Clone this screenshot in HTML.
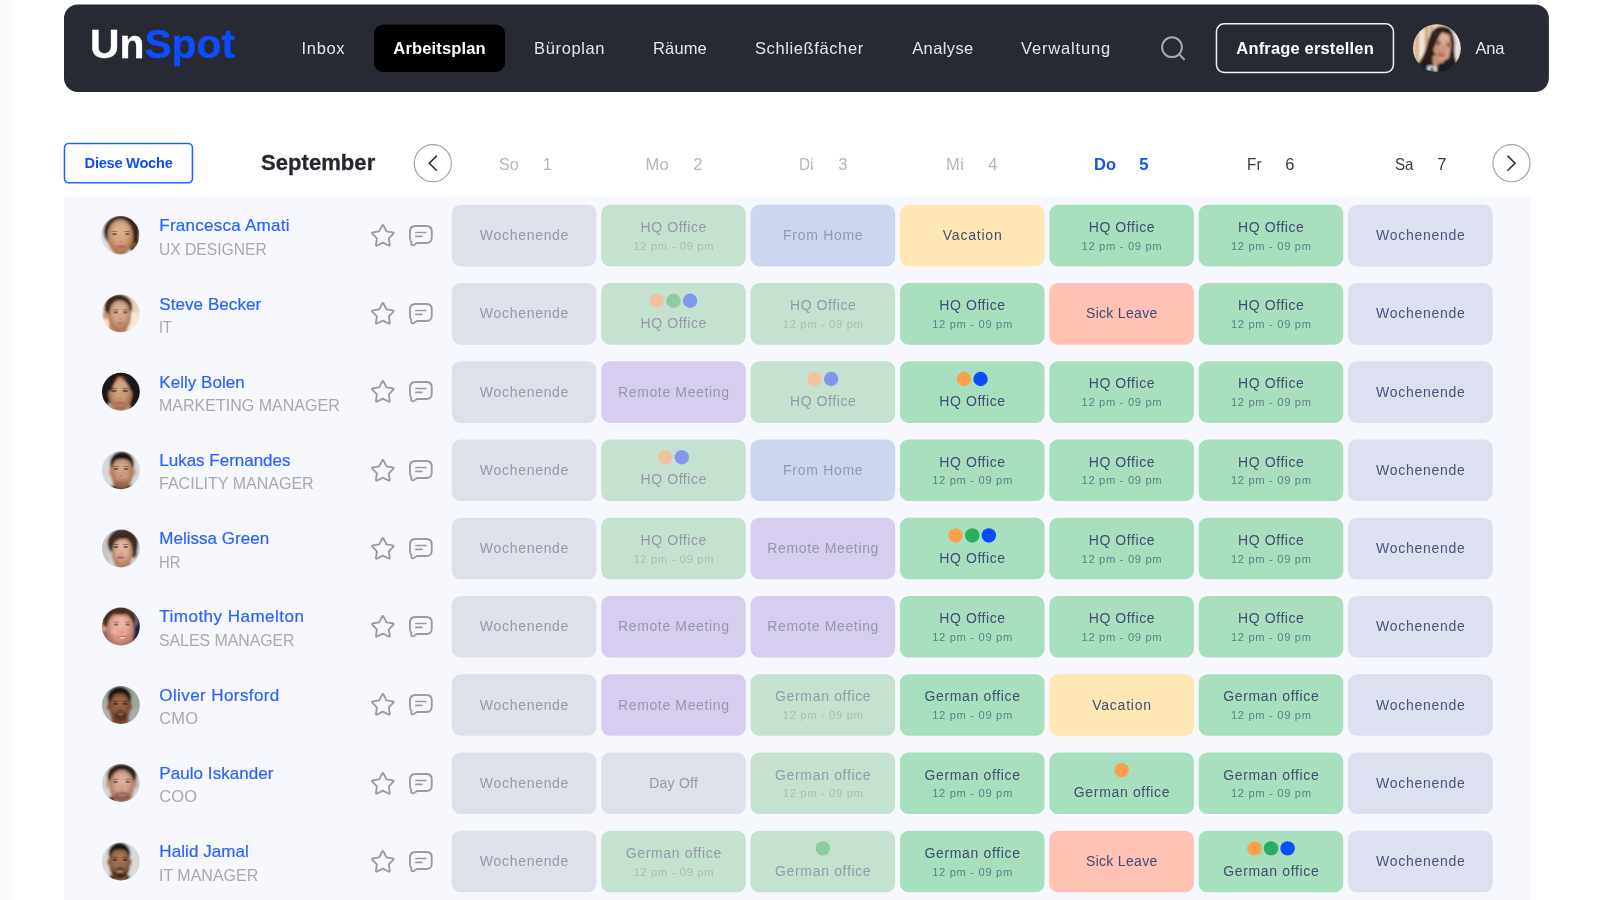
<!DOCTYPE html>
<html lang="de"><head><meta charset="utf-8"><title>UnSpot Arbeitsplan</title>
<style>
html,body{margin:0;padding:0;}
body{width:1600px;height:900px;overflow:hidden;position:relative;background:#fff;font-family:"Liberation Sans",sans-serif;}
#app{position:absolute;left:0;top:0;width:1600px;height:900px;overflow:hidden;will-change:transform;}
.t{position:absolute;white-space:nowrap;display:block;}
.b{position:absolute;box-sizing:border-box;}
svg{position:absolute;overflow:visible;}
</style></head><body><div id="app">
<div class="b" style="left:0.00px;top:0.00px;width:21.00px;height:900.00px;background:linear-gradient(90deg,rgba(0,0,0,0.024),rgba(0,0,0,0.01) 55%,rgba(0,0,0,0));"></div>
<svg style="left:0;top:0" width="1600" height="900"><rect x="64.00" y="4.40" width="1484.90" height="87.60" rx="14" fill="#272a33"/></svg>
<span class="t" style="left:90.3px;top:19px;font-size:40.2px;line-height:51px;font-weight:700;color:#fff;transform-origin:0 50%;transform:scaleX(1.015);-webkit-text-stroke:0.35px currentColor;">Un<span style="color:#0b4dff;-webkit-text-stroke:0.35px #0b4dff;">Spot</span></span>
<span class="t" style="left:301.50px;top:38px;font-size:16.5px;line-height:21px;letter-spacing:0.684px;color:#e4e5e8;">Inbox</span>
<svg style="left:0;top:0" width="1600" height="900"><rect x="374.00" y="24.60" width="131.00" height="47.40" rx="9" fill="#000"/></svg>
<span class="t" style="left:393.30px;top:38px;font-size:16.5px;line-height:21px;letter-spacing:0.163px;color:#fff;font-weight:700;">Arbeitsplan</span>
<span class="t" style="left:534.10px;top:38px;font-size:16.5px;line-height:21px;letter-spacing:0.622px;color:#e4e5e8;">Büroplan</span>
<span class="t" style="left:653.00px;top:38px;font-size:16.5px;line-height:21px;letter-spacing:0.152px;color:#e4e5e8;">Räume</span>
<span class="t" style="left:754.90px;top:38px;font-size:16.5px;line-height:21px;letter-spacing:0.619px;color:#e4e5e8;">Schließfächer</span>
<span class="t" style="left:912.20px;top:38px;font-size:16.5px;line-height:21px;letter-spacing:0.383px;color:#e4e5e8;">Analyse</span>
<span class="t" style="left:1021.00px;top:38px;font-size:16.5px;line-height:21px;letter-spacing:0.840px;color:#e4e5e8;">Verwaltung</span>
<svg style="left:1160px;top:35px" width="27" height="27" viewBox="0 0 27 27"><circle cx="12" cy="12.2" r="9.9" fill="none" stroke="#a9a9a8" stroke-width="2"/><path d="M19.2 19.4 L24.0 24.3" stroke="#a9a9a8" stroke-width="2" stroke-linecap="round"/></svg>
<svg style="left:0;top:0" width="1600" height="200"><rect x="1216.45" y="23.85" width="177.00" height="48.60" rx="7.75" fill="none" stroke="#f2f2f4" stroke-width="1.5"/></svg>
<span class="t" style="left:1236.30px;top:38px;font-size:16.5px;line-height:21px;letter-spacing:0.169px;color:#fff;font-weight:700;">Anfrage erstellen</span>
<span class="t" style="left:1475.50px;top:38px;font-size:16.5px;line-height:21px;letter-spacing:-0.179px;color:#e4e5e8;">Ana</span>
<svg style="left:0;top:0" width="1600" height="200"><rect x="64.48" y="143.47" width="127.95" height="39.35" rx="4.22" fill="#fff" stroke="#2460ff" stroke-width="1.55"/></svg>
<span class="t" style="left:84.60px;top:154px;font-size:14.7px;line-height:19px;letter-spacing:-0.293px;color:#0f4ff8;font-weight:700;">Diese Woche</span>
<span class="t" style="left:261.00px;top:149px;font-size:22px;line-height:28px;letter-spacing:0.062px;color:#25272e;font-weight:700;-webkit-text-stroke:0.3px #25272e;">September</span>
<svg style="left:0;top:0" width="1600" height="200"><circle cx="432.8" cy="163.2" r="18.55" fill="#fff" stroke="#a2a2a2" stroke-width="1.15"/><path d="M436.4 156.1 L429.3 163.2 L436.4 170.3" fill="none" stroke="#333" stroke-width="1.6" stroke-linecap="round" stroke-linejoin="miter"/></svg>
<svg style="left:0;top:0" width="1600" height="200"><circle cx="1511.5" cy="163.2" r="18.55" fill="#fff" stroke="#a2a2a2" stroke-width="1.15"/><path d="M1507.9 156.1 L1515.0 163.2 L1507.9 170.3" fill="none" stroke="#333" stroke-width="1.6" stroke-linecap="round" stroke-linejoin="miter"/></svg>
<span class="t" style="left:499.00px;top:154px;font-size:16.5px;line-height:21px;letter-spacing:0.000px;color:#b6b6b6;transform-origin:0 50%;transform:scaleX(0.9786);">So</span>
<span class="t" style="left:542.80px;top:154px;font-size:16.5px;line-height:21px;letter-spacing:0.000px;color:#b6b6b6;">1</span>
<span class="t" style="left:645.50px;top:154px;font-size:16.5px;line-height:21px;letter-spacing:0.329px;color:#b6b6b6;">Mo</span>
<span class="t" style="left:693.30px;top:154px;font-size:16.5px;line-height:21px;letter-spacing:0.000px;color:#b6b6b6;">2</span>
<span class="t" style="left:798.75px;top:154px;font-size:16.5px;line-height:21px;letter-spacing:0.000px;color:#b6b6b6;transform-origin:0 50%;transform:scaleX(0.9306);">Di</span>
<span class="t" style="left:838.30px;top:154px;font-size:16.5px;line-height:21px;letter-spacing:0.000px;color:#b6b6b6;">3</span>
<span class="t" style="left:946.00px;top:154px;font-size:16.5px;line-height:21px;letter-spacing:0.589px;color:#b6b6b6;">Mi</span>
<span class="t" style="left:988.30px;top:154px;font-size:16.5px;line-height:21px;letter-spacing:0.000px;color:#b6b6b6;">4</span>
<span class="t" style="left:1094.00px;top:154px;font-size:16.5px;line-height:21px;letter-spacing:0.005px;color:#1450f5;font-weight:700;">Do</span>
<span class="t" style="left:1139.30px;top:154px;font-size:16.5px;line-height:21px;letter-spacing:0.000px;color:#1450f5;font-weight:700;">5</span>
<span class="t" style="left:1246.50px;top:154px;font-size:16.5px;line-height:21px;letter-spacing:0.000px;color:#3a3a3a;transform-origin:0 50%;transform:scaleX(0.9311);">Fr</span>
<span class="t" style="left:1285.30px;top:154px;font-size:16.5px;line-height:21px;letter-spacing:0.000px;color:#3a3a3a;">6</span>
<span class="t" style="left:1395.00px;top:154px;font-size:16.5px;line-height:21px;letter-spacing:0.000px;color:#3a3a3a;transform-origin:0 50%;transform:scaleX(0.9167);">Sa</span>
<span class="t" style="left:1437.30px;top:154px;font-size:16.5px;line-height:21px;letter-spacing:0.000px;color:#3a3a3a;">7</span>
<svg style="left:0;top:0" width="1600" height="900"><rect x="63.80" y="196.70" width="1466.60" height="710.00" rx="0" fill="#f6f8fd"/></svg>
<svg style="left:0;top:0" width="1600" height="900"><rect x="451.80" y="204.80" width="144.6" height="61.6" rx="8.8" fill="#dfe1ea"/><rect x="601.18" y="204.80" width="144.6" height="61.6" rx="8.8" fill="#c5e1d0"/><rect x="750.56" y="204.80" width="144.6" height="61.6" rx="8.8" fill="#ccd7ef"/><rect x="899.94" y="204.80" width="144.6" height="61.6" rx="8.8" fill="#ffe8b4"/><rect x="1049.32" y="204.80" width="144.6" height="61.6" rx="8.8" fill="#a8dfbf"/><rect x="1198.70" y="204.80" width="144.6" height="61.6" rx="8.8" fill="#a8dfbf"/><rect x="1348.08" y="204.80" width="144.6" height="61.6" rx="8.8" fill="#dde0ee"/><rect x="451.80" y="283.04" width="144.6" height="61.6" rx="8.8" fill="#dfe1ea"/><rect x="601.18" y="283.04" width="144.6" height="61.6" rx="8.8" fill="#c5e1d0"/><circle cx="656.88" cy="300.74" r="7.2" fill="#f4c19f"/><circle cx="673.48" cy="300.74" r="7.2" fill="#8fcba3"/><circle cx="690.08" cy="300.74" r="7.2" fill="#7f98ee"/><rect x="750.56" y="283.04" width="144.6" height="61.6" rx="8.8" fill="#c5e1d0"/><rect x="899.94" y="283.04" width="144.6" height="61.6" rx="8.8" fill="#a8dfbf"/><rect x="1049.32" y="283.04" width="144.6" height="61.6" rx="8.8" fill="#ffc2b4"/><rect x="1198.70" y="283.04" width="144.6" height="61.6" rx="8.8" fill="#a8dfbf"/><rect x="1348.08" y="283.04" width="144.6" height="61.6" rx="8.8" fill="#dde0ee"/><rect x="451.80" y="361.28" width="144.6" height="61.6" rx="8.8" fill="#dfe1ea"/><rect x="601.18" y="361.28" width="144.6" height="61.6" rx="8.8" fill="#d7cdef"/><rect x="750.56" y="361.28" width="144.6" height="61.6" rx="8.8" fill="#c5e1d0"/><circle cx="814.56" cy="378.98" r="7.2" fill="#f4c19f"/><circle cx="831.16" cy="378.98" r="7.2" fill="#7f98ee"/><rect x="899.94" y="361.28" width="144.6" height="61.6" rx="8.8" fill="#a8dfbf"/><circle cx="963.94" cy="378.98" r="7.2" fill="#ff9f4a"/><circle cx="980.54" cy="378.98" r="7.2" fill="#0a4dff"/><rect x="1049.32" y="361.28" width="144.6" height="61.6" rx="8.8" fill="#a8dfbf"/><rect x="1198.70" y="361.28" width="144.6" height="61.6" rx="8.8" fill="#a8dfbf"/><rect x="1348.08" y="361.28" width="144.6" height="61.6" rx="8.8" fill="#dde0ee"/><rect x="451.80" y="439.52" width="144.6" height="61.6" rx="8.8" fill="#dfe1ea"/><rect x="601.18" y="439.52" width="144.6" height="61.6" rx="8.8" fill="#c5e1d0"/><circle cx="665.18" cy="457.22" r="7.2" fill="#f4c19f"/><circle cx="681.78" cy="457.22" r="7.2" fill="#7f98ee"/><rect x="750.56" y="439.52" width="144.6" height="61.6" rx="8.8" fill="#ccd7ef"/><rect x="899.94" y="439.52" width="144.6" height="61.6" rx="8.8" fill="#a8dfbf"/><rect x="1049.32" y="439.52" width="144.6" height="61.6" rx="8.8" fill="#a8dfbf"/><rect x="1198.70" y="439.52" width="144.6" height="61.6" rx="8.8" fill="#a8dfbf"/><rect x="1348.08" y="439.52" width="144.6" height="61.6" rx="8.8" fill="#dde0ee"/><rect x="451.80" y="517.76" width="144.6" height="61.6" rx="8.8" fill="#dfe1ea"/><rect x="601.18" y="517.76" width="144.6" height="61.6" rx="8.8" fill="#c5e1d0"/><rect x="750.56" y="517.76" width="144.6" height="61.6" rx="8.8" fill="#d7cdef"/><rect x="899.94" y="517.76" width="144.6" height="61.6" rx="8.8" fill="#a8dfbf"/><circle cx="955.64" cy="535.46" r="7.2" fill="#ff9f4a"/><circle cx="972.24" cy="535.46" r="7.2" fill="#27ae60"/><circle cx="988.84" cy="535.46" r="7.2" fill="#0a4dff"/><rect x="1049.32" y="517.76" width="144.6" height="61.6" rx="8.8" fill="#a8dfbf"/><rect x="1198.70" y="517.76" width="144.6" height="61.6" rx="8.8" fill="#a8dfbf"/><rect x="1348.08" y="517.76" width="144.6" height="61.6" rx="8.8" fill="#dde0ee"/><rect x="451.80" y="596.00" width="144.6" height="61.6" rx="8.8" fill="#dfe1ea"/><rect x="601.18" y="596.00" width="144.6" height="61.6" rx="8.8" fill="#d7cdef"/><rect x="750.56" y="596.00" width="144.6" height="61.6" rx="8.8" fill="#d7cdef"/><rect x="899.94" y="596.00" width="144.6" height="61.6" rx="8.8" fill="#a8dfbf"/><rect x="1049.32" y="596.00" width="144.6" height="61.6" rx="8.8" fill="#a8dfbf"/><rect x="1198.70" y="596.00" width="144.6" height="61.6" rx="8.8" fill="#a8dfbf"/><rect x="1348.08" y="596.00" width="144.6" height="61.6" rx="8.8" fill="#dde0ee"/><rect x="451.80" y="674.24" width="144.6" height="61.6" rx="8.8" fill="#dfe1ea"/><rect x="601.18" y="674.24" width="144.6" height="61.6" rx="8.8" fill="#d7cdef"/><rect x="750.56" y="674.24" width="144.6" height="61.6" rx="8.8" fill="#c5e1d0"/><rect x="899.94" y="674.24" width="144.6" height="61.6" rx="8.8" fill="#a8dfbf"/><rect x="1049.32" y="674.24" width="144.6" height="61.6" rx="8.8" fill="#ffe8b4"/><rect x="1198.70" y="674.24" width="144.6" height="61.6" rx="8.8" fill="#a8dfbf"/><rect x="1348.08" y="674.24" width="144.6" height="61.6" rx="8.8" fill="#dde0ee"/><rect x="451.80" y="752.48" width="144.6" height="61.6" rx="8.8" fill="#dfe1ea"/><rect x="601.18" y="752.48" width="144.6" height="61.6" rx="8.8" fill="#dfe1ea"/><rect x="750.56" y="752.48" width="144.6" height="61.6" rx="8.8" fill="#c5e1d0"/><rect x="899.94" y="752.48" width="144.6" height="61.6" rx="8.8" fill="#a8dfbf"/><rect x="1049.32" y="752.48" width="144.6" height="61.6" rx="8.8" fill="#a8dfbf"/><circle cx="1121.62" cy="770.18" r="7.2" fill="#ff9f4a"/><rect x="1198.70" y="752.48" width="144.6" height="61.6" rx="8.8" fill="#a8dfbf"/><rect x="1348.08" y="752.48" width="144.6" height="61.6" rx="8.8" fill="#dde0ee"/><rect x="451.80" y="830.72" width="144.6" height="61.6" rx="8.8" fill="#dfe1ea"/><rect x="601.18" y="830.72" width="144.6" height="61.6" rx="8.8" fill="#c5e1d0"/><rect x="750.56" y="830.72" width="144.6" height="61.6" rx="8.8" fill="#c5e1d0"/><circle cx="822.86" cy="848.42" r="7.2" fill="#8fcba3"/><rect x="899.94" y="830.72" width="144.6" height="61.6" rx="8.8" fill="#a8dfbf"/><rect x="1049.32" y="830.72" width="144.6" height="61.6" rx="8.8" fill="#ffc2b4"/><rect x="1198.70" y="830.72" width="144.6" height="61.6" rx="8.8" fill="#a8dfbf"/><circle cx="1254.40" cy="848.42" r="7.2" fill="#ff9f4a"/><circle cx="1271.00" cy="848.42" r="7.2" fill="#27ae60"/><circle cx="1287.60" cy="848.42" r="7.2" fill="#0a4dff"/><rect x="1348.08" y="830.72" width="144.6" height="61.6" rx="8.8" fill="#dde0ee"/></svg>
<svg style="left:95px;top:210px" width="50" height="50" viewBox="0 0 900 900"><defs><clipPath id="c0"><circle cx="455" cy="455" r="345"/></clipPath><filter id="f0" x="-10%" y="-10%" width="120%" height="120%"><feGaussianBlur stdDeviation="18"/></filter><filter id="h0" x="-10%" y="-10%" width="120%" height="120%"><feGaussianBlur stdDeviation="12"/></filter><radialGradient id="g0" cx="50%" cy="42%" r="55%"><stop offset="0.45" stop-color="#5a2a10" stop-opacity="0"/><stop offset="1" stop-color="#5a2a10" stop-opacity="0.42"/></radialGradient></defs><g clip-path="url(#c0)"><g filter="url(#f0)"><rect x="0" y="0" width="900" height="900" fill="#dcdde1"/><ellipse cx="480" cy="390" rx="325" ry="300" fill="#3a2519"/><ellipse cx="690" cy="560" rx="110" ry="190" fill="#3a2519"/><ellipse cx="720" cy="650" rx="60" ry="70" fill="#7a5a34" opacity="0.9"/><rect x="330" y="640" width="260" height="300" fill="#cf9874"/><ellipse cx="455" cy="480" rx="232" ry="312" fill="#d9a681"/><ellipse cx="455" cy="330" rx="190" ry="130" fill="#deb08c" opacity="0.8"/><ellipse cx="455" cy="480" rx="232" ry="312" fill="url(#g0)"/></g><g filter="url(#h0)" opacity="0.9"><ellipse cx="350" cy="432" rx="42" ry="16" fill="#3b2b26" opacity="0.8"/><ellipse cx="580" cy="432" rx="42" ry="16" fill="#3b2b26" opacity="0.8"/><ellipse cx="350" cy="387" rx="60" ry="9" fill="#3b2b26" opacity="0.55"/><ellipse cx="580" cy="387" rx="60" ry="9" fill="#3b2b26" opacity="0.55"/><ellipse cx="467.0" cy="571.0" rx="34" ry="16" fill="#a86f50" opacity="0.45"/><ellipse cx="465" cy="660" rx="88" ry="28" fill="#b8626b" opacity="0.9"/></g></g></svg>
<span class="t" style="left:159.30px;top:215px;font-size:17px;line-height:22px;letter-spacing:0.257px;color:#2a62ff;-webkit-text-stroke:0.2px #2a62ff;">Francesca Amati</span>
<span class="t" style="left:159.30px;top:239px;font-size:16.5px;line-height:21px;letter-spacing:0.000px;color:#a9a9af;transform-origin:0 50%;transform:scaleX(0.9473);">UX DESIGNER</span>
<svg style="left:364px;top:216.00px" width="80" height="40" viewBox="0 0 1600 800"><path d="M303.5 306.9 L362.3 194.2 Q377.0 166.0 391.7 194.2 L450.5 306.9 L575.8 327.9 Q607.2 333.2 584.9 355.9 L495.9 446.6 L514.6 572.4 Q519.2 603.8 490.8 589.6 L377.0 533.0 L263.2 589.6 Q234.8 603.8 239.4 572.4 L258.1 446.6 L169.1 355.9 Q146.8 333.2 178.2 327.9 Z" fill="none" stroke="#9b9b9b" stroke-width="37" stroke-linejoin="round"/><path d="M1030 200 H1245 Q1355 200 1355 310 V430 Q1355 540 1245 540 H1075 Q1050 540 1030 558 Q990 598 962 584 Q938 570 946 522 Q920 490 920 430 V310 Q920 200 1030 200 Z" fill="none" stroke="#9b9b9b" stroke-width="37" stroke-linejoin="round"/><path d="M1038 330 H1236 M1038 408 H1158" stroke="#9b9b9b" stroke-width="34" stroke-linecap="round"/></svg>
<span class="t" style="left:479.80px;top:226px;font-size:14px;line-height:18px;letter-spacing:0.706px;color:#959aaa;">Wochenende</span>
<span class="t" style="left:640.58px;top:218px;font-size:14px;line-height:18px;letter-spacing:0.575px;color:#959aaa;">HQ Office</span>
<span class="t" style="left:633.38px;top:239px;font-size:11.2px;line-height:14px;letter-spacing:0.666px;color:#a9bdb6;">12 pm - 09 pm</span>
<span class="t" style="left:783.11px;top:226px;font-size:14px;line-height:18px;letter-spacing:0.700px;color:#959aaa;">From Home</span>
<span class="t" style="left:942.79px;top:226px;font-size:14px;line-height:18px;letter-spacing:0.779px;color:#414d72;">Vacation</span>
<span class="t" style="left:1088.72px;top:218px;font-size:14px;line-height:18px;letter-spacing:0.575px;color:#414d72;">HQ Office</span>
<span class="t" style="left:1081.52px;top:239px;font-size:11.2px;line-height:14px;letter-spacing:0.666px;color:#5f7f83;">12 pm - 09 pm</span>
<span class="t" style="left:1238.10px;top:218px;font-size:14px;line-height:18px;letter-spacing:0.575px;color:#414d72;">HQ Office</span>
<span class="t" style="left:1230.90px;top:239px;font-size:11.2px;line-height:14px;letter-spacing:0.666px;color:#5f7f83;">12 pm - 09 pm</span>
<span class="t" style="left:1376.08px;top:226px;font-size:14px;line-height:18px;letter-spacing:0.706px;color:#4a5578;">Wochenende</span>
<svg style="left:95px;top:285px" width="50" height="50" viewBox="0 0 900 900"><defs><clipPath id="c1"><circle cx="462" cy="512" r="340"/></clipPath><filter id="f1" x="-10%" y="-10%" width="120%" height="120%"><feGaussianBlur stdDeviation="18"/></filter><filter id="h1" x="-10%" y="-10%" width="120%" height="120%"><feGaussianBlur stdDeviation="12"/></filter><radialGradient id="g1" cx="50%" cy="42%" r="55%"><stop offset="0.45" stop-color="#5a2a10" stop-opacity="0"/><stop offset="1" stop-color="#5a2a10" stop-opacity="0.42"/></radialGradient></defs><g clip-path="url(#c1)"><g filter="url(#f1)"><rect x="0" y="0" width="900" height="900" fill="#fbe4d5"/><ellipse cx="760" cy="280" rx="200" ry="220" fill="#e7cdbc" opacity="0.8"/><ellipse cx="420" cy="400" rx="250" ry="240" fill="#3b2a20"/><ellipse cx="190" cy="545" rx="45" ry="75" fill="#cf9677"/><rect x="250" y="700" width="330" height="300" fill="#cf9a7b"/><ellipse cx="440" cy="560" rx="205" ry="292" fill="#d8a486"/><ellipse cx="440" cy="400" rx="170" ry="110" fill="#ddb094" opacity="0.8"/><path d="M170 470 Q190 200 430 180 Q640 175 660 420 Q600 280 430 275 Q280 285 255 520 Z" fill="#3b2a20"/><ellipse cx="440" cy="560" rx="205" ry="292" fill="url(#g1)"/></g><g filter="url(#h1)" opacity="0.9"><ellipse cx="372" cy="492" rx="42" ry="16" fill="#3b2b26" opacity="0.8"/><ellipse cx="545" cy="492" rx="42" ry="16" fill="#3b2b26" opacity="0.8"/><ellipse cx="372" cy="447" rx="60" ry="9" fill="#3b2b26" opacity="0.55"/><ellipse cx="545" cy="447" rx="60" ry="9" fill="#3b2b26" opacity="0.55"/><ellipse cx="460.5" cy="616.0" rx="34" ry="16" fill="#a86f50" opacity="0.45"/><ellipse cx="462" cy="690" rx="70" ry="22" fill="#c26d7c" opacity="0.9"/></g></g></svg>
<span class="t" style="left:159.30px;top:294px;font-size:17px;line-height:22px;letter-spacing:0.072px;color:#2a62ff;-webkit-text-stroke:0.2px #2a62ff;">Steve Becker</span>
<span class="t" style="left:159.30px;top:317px;font-size:16.5px;line-height:21px;letter-spacing:0.000px;color:#a9a9af;transform-origin:0 50%;transform:scaleX(0.8729);">IT</span>
<svg style="left:364px;top:294.24px" width="80" height="40" viewBox="0 0 1600 800"><path d="M303.5 306.9 L362.3 194.2 Q377.0 166.0 391.7 194.2 L450.5 306.9 L575.8 327.9 Q607.2 333.2 584.9 355.9 L495.9 446.6 L514.6 572.4 Q519.2 603.8 490.8 589.6 L377.0 533.0 L263.2 589.6 Q234.8 603.8 239.4 572.4 L258.1 446.6 L169.1 355.9 Q146.8 333.2 178.2 327.9 Z" fill="none" stroke="#9b9b9b" stroke-width="37" stroke-linejoin="round"/><path d="M1030 200 H1245 Q1355 200 1355 310 V430 Q1355 540 1245 540 H1075 Q1050 540 1030 558 Q990 598 962 584 Q938 570 946 522 Q920 490 920 430 V310 Q920 200 1030 200 Z" fill="none" stroke="#9b9b9b" stroke-width="37" stroke-linejoin="round"/><path d="M1038 330 H1236 M1038 408 H1158" stroke="#9b9b9b" stroke-width="34" stroke-linecap="round"/></svg>
<span class="t" style="left:479.80px;top:304px;font-size:14px;line-height:18px;letter-spacing:0.706px;color:#959aaa;">Wochenende</span>
<span class="t" style="left:640.58px;top:314px;font-size:14px;line-height:18px;letter-spacing:0.575px;color:#959aaa;">HQ Office</span>
<span class="t" style="left:789.96px;top:296px;font-size:14px;line-height:18px;letter-spacing:0.575px;color:#959aaa;">HQ Office</span>
<span class="t" style="left:782.76px;top:317px;font-size:11.2px;line-height:14px;letter-spacing:0.666px;color:#a9bdb6;">12 pm - 09 pm</span>
<span class="t" style="left:939.34px;top:296px;font-size:14px;line-height:18px;letter-spacing:0.575px;color:#414d72;">HQ Office</span>
<span class="t" style="left:932.14px;top:317px;font-size:11.2px;line-height:14px;letter-spacing:0.666px;color:#5f7f83;">12 pm - 09 pm</span>
<span class="t" style="left:1086.02px;top:304px;font-size:14px;line-height:18px;letter-spacing:0.302px;color:#414d72;">Sick Leave</span>
<span class="t" style="left:1238.10px;top:296px;font-size:14px;line-height:18px;letter-spacing:0.575px;color:#414d72;">HQ Office</span>
<span class="t" style="left:1230.90px;top:317px;font-size:11.2px;line-height:14px;letter-spacing:0.666px;color:#5f7f83;">12 pm - 09 pm</span>
<span class="t" style="left:1376.08px;top:304px;font-size:14px;line-height:18px;letter-spacing:0.706px;color:#4a5578;">Wochenende</span>
<svg style="left:95px;top:365px" width="50" height="50" viewBox="0 0 900 900"><defs><clipPath id="c2"><circle cx="466" cy="482" r="341"/></clipPath><filter id="f2" x="-10%" y="-10%" width="120%" height="120%"><feGaussianBlur stdDeviation="18"/></filter><filter id="h2" x="-10%" y="-10%" width="120%" height="120%"><feGaussianBlur stdDeviation="12"/></filter><radialGradient id="g2" cx="50%" cy="42%" r="55%"><stop offset="0.45" stop-color="#5a2a10" stop-opacity="0"/><stop offset="1" stop-color="#5a2a10" stop-opacity="0.42"/></radialGradient></defs><g clip-path="url(#c2)"><g filter="url(#f2)"><rect x="0" y="0" width="900" height="900" fill="#1c1819"/><ellipse cx="285" cy="745" rx="90" ry="60" fill="#b5b0aa" opacity="0.9"/><rect x="330" y="700" width="300" height="300" fill="#c8926e"/><ellipse cx="455" cy="515" rx="212" ry="300" fill="#cf9c78"/><ellipse cx="450" cy="370" rx="170" ry="120" fill="#d6a783" opacity="0.8"/><path d="M240 470 Q250 250 420 235 Q330 330 300 470 Z" fill="#1c1819"/><path d="M680 470 Q690 260 470 232 Q600 320 640 470 Z" fill="#1c1819"/><ellipse cx="455" cy="515" rx="212" ry="300" fill="url(#g2)"/></g><g filter="url(#h2)" opacity="0.9"><ellipse cx="340" cy="466" rx="50" ry="22" fill="#3b2b26" opacity="0.8"/><ellipse cx="545" cy="466" rx="50" ry="22" fill="#3b2b26" opacity="0.8"/><ellipse cx="340" cy="421" rx="68" ry="9" fill="#3b2b26" opacity="0.55"/><ellipse cx="545" cy="421" rx="68" ry="9" fill="#3b2b26" opacity="0.55"/><ellipse cx="444.5" cy="599.0" rx="34" ry="16" fill="#a86f50" opacity="0.45"/><ellipse cx="450" cy="682" rx="82" ry="28" fill="#b85a6b" opacity="0.9"/></g></g></svg>
<span class="t" style="left:159.30px;top:372px;font-size:17px;line-height:22px;letter-spacing:0.035px;color:#2a62ff;-webkit-text-stroke:0.2px #2a62ff;">Kelly Bolen</span>
<span class="t" style="left:159.30px;top:395px;font-size:16.5px;line-height:21px;letter-spacing:0.000px;color:#a9a9af;transform-origin:0 50%;transform:scaleX(0.9715);">MARKETING MANAGER</span>
<svg style="left:364px;top:372.48px" width="80" height="40" viewBox="0 0 1600 800"><path d="M303.5 306.9 L362.3 194.2 Q377.0 166.0 391.7 194.2 L450.5 306.9 L575.8 327.9 Q607.2 333.2 584.9 355.9 L495.9 446.6 L514.6 572.4 Q519.2 603.8 490.8 589.6 L377.0 533.0 L263.2 589.6 Q234.8 603.8 239.4 572.4 L258.1 446.6 L169.1 355.9 Q146.8 333.2 178.2 327.9 Z" fill="none" stroke="#9b9b9b" stroke-width="37" stroke-linejoin="round"/><path d="M1030 200 H1245 Q1355 200 1355 310 V430 Q1355 540 1245 540 H1075 Q1050 540 1030 558 Q990 598 962 584 Q938 570 946 522 Q920 490 920 430 V310 Q920 200 1030 200 Z" fill="none" stroke="#9b9b9b" stroke-width="37" stroke-linejoin="round"/><path d="M1038 330 H1236 M1038 408 H1158" stroke="#9b9b9b" stroke-width="34" stroke-linecap="round"/></svg>
<span class="t" style="left:479.80px;top:383px;font-size:14px;line-height:18px;letter-spacing:0.706px;color:#959aaa;">Wochenende</span>
<span class="t" style="left:617.98px;top:383px;font-size:14px;line-height:18px;letter-spacing:0.637px;color:#959aaa;">Remote Meeting</span>
<span class="t" style="left:789.96px;top:392px;font-size:14px;line-height:18px;letter-spacing:0.575px;color:#959aaa;">HQ Office</span>
<span class="t" style="left:939.34px;top:392px;font-size:14px;line-height:18px;letter-spacing:0.575px;color:#414d72;">HQ Office</span>
<span class="t" style="left:1088.72px;top:374px;font-size:14px;line-height:18px;letter-spacing:0.575px;color:#414d72;">HQ Office</span>
<span class="t" style="left:1081.52px;top:395px;font-size:11.2px;line-height:14px;letter-spacing:0.666px;color:#5f7f83;">12 pm - 09 pm</span>
<span class="t" style="left:1238.10px;top:374px;font-size:14px;line-height:18px;letter-spacing:0.575px;color:#414d72;">HQ Office</span>
<span class="t" style="left:1230.90px;top:395px;font-size:11.2px;line-height:14px;letter-spacing:0.666px;color:#5f7f83;">12 pm - 09 pm</span>
<span class="t" style="left:1376.08px;top:383px;font-size:14px;line-height:18px;letter-spacing:0.706px;color:#4a5578;">Wochenende</span>
<svg style="left:95px;top:445px" width="50" height="50" viewBox="0 0 900 900"><defs><clipPath id="c3"><circle cx="466" cy="455" r="341"/></clipPath><filter id="f3" x="-10%" y="-10%" width="120%" height="120%"><feGaussianBlur stdDeviation="18"/></filter><filter id="h3" x="-10%" y="-10%" width="120%" height="120%"><feGaussianBlur stdDeviation="12"/></filter><radialGradient id="g3" cx="50%" cy="42%" r="55%"><stop offset="0.45" stop-color="#5a2a10" stop-opacity="0"/><stop offset="1" stop-color="#5a2a10" stop-opacity="0.42"/></radialGradient></defs><g clip-path="url(#c3)"><g filter="url(#f3)"><rect x="0" y="0" width="900" height="900" fill="#d8d8d8"/><ellipse cx="485" cy="330" rx="215" ry="215" fill="#1d1918"/><ellipse cx="282" cy="490" rx="30" ry="65" fill="#c68e6e"/><ellipse cx="700" cy="490" rx="30" ry="65" fill="#c68e6e"/><rect x="320" y="690" width="330" height="120" fill="#c9936f"/><rect x="280" y="735" width="400" height="200" fill="#3a302c"/><ellipse cx="485" cy="505" rx="198" ry="280" fill="#cf9b7c"/><ellipse cx="485" cy="370" rx="165" ry="100" fill="#d6a686" opacity="0.8"/><path d="M275 430 Q270 170 480 125 Q700 150 700 430 Q660 300 600 265 Q480 235 360 270 Q300 320 275 430 Z" fill="#1d1918"/><ellipse cx="475" cy="700" rx="120" ry="70" fill="#7a5542" opacity="0.35"/><ellipse cx="485" cy="505" rx="198" ry="280" fill="url(#g3)"/></g><g filter="url(#h3)" opacity="0.9"><ellipse cx="378" cy="432" rx="42" ry="16" fill="#3b2b26" opacity="0.8"/><ellipse cx="560" cy="432" rx="42" ry="16" fill="#3b2b26" opacity="0.8"/><ellipse cx="378" cy="387" rx="60" ry="9" fill="#3b2b26" opacity="0.55"/><ellipse cx="560" cy="387" rx="60" ry="9" fill="#3b2b26" opacity="0.55"/><ellipse cx="471.0" cy="557.0" rx="34" ry="16" fill="#a86f50" opacity="0.45"/><ellipse cx="470" cy="632" rx="80" ry="26" fill="#c27b82" opacity="0.9"/></g></g></svg>
<span class="t" style="left:159.30px;top:450px;font-size:17px;line-height:22px;letter-spacing:-0.011px;color:#2a62ff;-webkit-text-stroke:0.2px #2a62ff;">Lukas Fernandes</span>
<span class="t" style="left:159.30px;top:473px;font-size:16.5px;line-height:21px;letter-spacing:0.000px;color:#a9a9af;transform-origin:0 50%;transform:scaleX(0.9715);">FACILITY MANAGER</span>
<svg style="left:364px;top:450.72px" width="80" height="40" viewBox="0 0 1600 800"><path d="M303.5 306.9 L362.3 194.2 Q377.0 166.0 391.7 194.2 L450.5 306.9 L575.8 327.9 Q607.2 333.2 584.9 355.9 L495.9 446.6 L514.6 572.4 Q519.2 603.8 490.8 589.6 L377.0 533.0 L263.2 589.6 Q234.8 603.8 239.4 572.4 L258.1 446.6 L169.1 355.9 Q146.8 333.2 178.2 327.9 Z" fill="none" stroke="#9b9b9b" stroke-width="37" stroke-linejoin="round"/><path d="M1030 200 H1245 Q1355 200 1355 310 V430 Q1355 540 1245 540 H1075 Q1050 540 1030 558 Q990 598 962 584 Q938 570 946 522 Q920 490 920 430 V310 Q920 200 1030 200 Z" fill="none" stroke="#9b9b9b" stroke-width="37" stroke-linejoin="round"/><path d="M1038 330 H1236 M1038 408 H1158" stroke="#9b9b9b" stroke-width="34" stroke-linecap="round"/></svg>
<span class="t" style="left:479.80px;top:461px;font-size:14px;line-height:18px;letter-spacing:0.706px;color:#959aaa;">Wochenende</span>
<span class="t" style="left:640.58px;top:470px;font-size:14px;line-height:18px;letter-spacing:0.575px;color:#959aaa;">HQ Office</span>
<span class="t" style="left:783.11px;top:461px;font-size:14px;line-height:18px;letter-spacing:0.700px;color:#959aaa;">From Home</span>
<span class="t" style="left:939.34px;top:453px;font-size:14px;line-height:18px;letter-spacing:0.575px;color:#414d72;">HQ Office</span>
<span class="t" style="left:932.14px;top:473px;font-size:11.2px;line-height:14px;letter-spacing:0.666px;color:#5f7f83;">12 pm - 09 pm</span>
<span class="t" style="left:1088.72px;top:453px;font-size:14px;line-height:18px;letter-spacing:0.575px;color:#414d72;">HQ Office</span>
<span class="t" style="left:1081.52px;top:473px;font-size:11.2px;line-height:14px;letter-spacing:0.666px;color:#5f7f83;">12 pm - 09 pm</span>
<span class="t" style="left:1238.10px;top:453px;font-size:14px;line-height:18px;letter-spacing:0.575px;color:#414d72;">HQ Office</span>
<span class="t" style="left:1230.90px;top:473px;font-size:11.2px;line-height:14px;letter-spacing:0.666px;color:#5f7f83;">12 pm - 09 pm</span>
<span class="t" style="left:1376.08px;top:461px;font-size:14px;line-height:18px;letter-spacing:0.706px;color:#4a5578;">Wochenende</span>
<svg style="left:95px;top:523px" width="50" height="50" viewBox="0 0 900 900"><defs><clipPath id="c4"><circle cx="466" cy="460" r="341"/></clipPath><filter id="f4" x="-10%" y="-10%" width="120%" height="120%"><feGaussianBlur stdDeviation="18"/></filter><filter id="h4" x="-10%" y="-10%" width="120%" height="120%"><feGaussianBlur stdDeviation="12"/></filter><radialGradient id="g4" cx="50%" cy="42%" r="55%"><stop offset="0.45" stop-color="#5a2a10" stop-opacity="0"/><stop offset="1" stop-color="#5a2a10" stop-opacity="0.42"/></radialGradient></defs><g clip-path="url(#c4)"><g filter="url(#f4)"><rect x="0" y="0" width="900" height="900" fill="#d2d2d2"/><ellipse cx="160" cy="520" rx="120" ry="260" fill="#c4c4c4" opacity="0.8"/><ellipse cx="500" cy="360" rx="275" ry="255" fill="#402b21"/><ellipse cx="700" cy="500" rx="60" ry="130" fill="#402b21"/><rect x="350" y="690" width="300" height="250" fill="#d3a288"/><ellipse cx="490" cy="530" rx="188" ry="272" fill="#dcae95"/><ellipse cx="500" cy="400" rx="150" ry="90" fill="#e2b9a0" opacity="0.8"/><path d="M240 420 Q230 180 480 125 Q760 150 770 420 Q760 540 690 610 Q700 420 610 300 Q480 260 380 320 Q320 380 300 520 Q250 480 240 420 Z" fill="#402b21"/><ellipse cx="490" cy="530" rx="188" ry="272" fill="url(#g4)"/></g><g filter="url(#h4)" opacity="0.9"><ellipse cx="378" cy="432" rx="42" ry="16" fill="#3b2b26" opacity="0.8"/><ellipse cx="552" cy="432" rx="42" ry="16" fill="#3b2b26" opacity="0.8"/><ellipse cx="378" cy="387" rx="60" ry="9" fill="#3b2b26" opacity="0.55"/><ellipse cx="552" cy="387" rx="60" ry="9" fill="#3b2b26" opacity="0.55"/><ellipse cx="467.0" cy="552.0" rx="34" ry="16" fill="#a86f50" opacity="0.45"/><ellipse cx="465" cy="622" rx="66" ry="26" fill="#b5566b" opacity="0.9"/></g></g></svg>
<span class="t" style="left:159.30px;top:528px;font-size:17px;line-height:22px;letter-spacing:0.025px;color:#2a62ff;-webkit-text-stroke:0.2px #2a62ff;">Melissa Green</span>
<span class="t" style="left:159.30px;top:552px;font-size:16.5px;line-height:21px;letter-spacing:0.000px;color:#a9a9af;transform-origin:0 50%;transform:scaleX(0.8980);">HR</span>
<svg style="left:364px;top:528.96px" width="80" height="40" viewBox="0 0 1600 800"><path d="M303.5 306.9 L362.3 194.2 Q377.0 166.0 391.7 194.2 L450.5 306.9 L575.8 327.9 Q607.2 333.2 584.9 355.9 L495.9 446.6 L514.6 572.4 Q519.2 603.8 490.8 589.6 L377.0 533.0 L263.2 589.6 Q234.8 603.8 239.4 572.4 L258.1 446.6 L169.1 355.9 Q146.8 333.2 178.2 327.9 Z" fill="none" stroke="#9b9b9b" stroke-width="37" stroke-linejoin="round"/><path d="M1030 200 H1245 Q1355 200 1355 310 V430 Q1355 540 1245 540 H1075 Q1050 540 1030 558 Q990 598 962 584 Q938 570 946 522 Q920 490 920 430 V310 Q920 200 1030 200 Z" fill="none" stroke="#9b9b9b" stroke-width="37" stroke-linejoin="round"/><path d="M1038 330 H1236 M1038 408 H1158" stroke="#9b9b9b" stroke-width="34" stroke-linecap="round"/></svg>
<span class="t" style="left:479.80px;top:539px;font-size:14px;line-height:18px;letter-spacing:0.706px;color:#959aaa;">Wochenende</span>
<span class="t" style="left:640.58px;top:531px;font-size:14px;line-height:18px;letter-spacing:0.575px;color:#959aaa;">HQ Office</span>
<span class="t" style="left:633.38px;top:552px;font-size:11.2px;line-height:14px;letter-spacing:0.666px;color:#a9bdb6;">12 pm - 09 pm</span>
<span class="t" style="left:767.36px;top:539px;font-size:14px;line-height:18px;letter-spacing:0.637px;color:#959aaa;">Remote Meeting</span>
<span class="t" style="left:939.34px;top:549px;font-size:14px;line-height:18px;letter-spacing:0.575px;color:#414d72;">HQ Office</span>
<span class="t" style="left:1088.72px;top:531px;font-size:14px;line-height:18px;letter-spacing:0.575px;color:#414d72;">HQ Office</span>
<span class="t" style="left:1081.52px;top:552px;font-size:11.2px;line-height:14px;letter-spacing:0.666px;color:#5f7f83;">12 pm - 09 pm</span>
<span class="t" style="left:1238.10px;top:531px;font-size:14px;line-height:18px;letter-spacing:0.575px;color:#414d72;">HQ Office</span>
<span class="t" style="left:1230.90px;top:552px;font-size:11.2px;line-height:14px;letter-spacing:0.666px;color:#5f7f83;">12 pm - 09 pm</span>
<span class="t" style="left:1376.08px;top:539px;font-size:14px;line-height:18px;letter-spacing:0.706px;color:#4a5578;">Wochenende</span>
<svg style="left:95px;top:601px" width="50" height="50" viewBox="0 0 900 900"><defs><clipPath id="c5"><circle cx="466" cy="460" r="341"/></clipPath><filter id="f5" x="-10%" y="-10%" width="120%" height="120%"><feGaussianBlur stdDeviation="18"/></filter><filter id="h5" x="-10%" y="-10%" width="120%" height="120%"><feGaussianBlur stdDeviation="12"/></filter><radialGradient id="g5" cx="50%" cy="42%" r="55%"><stop offset="0.45" stop-color="#5a2a10" stop-opacity="0"/><stop offset="1" stop-color="#5a2a10" stop-opacity="0.42"/></radialGradient></defs><g clip-path="url(#c5)"><g filter="url(#f5)"><rect x="0" y="0" width="900" height="900" fill="#8a6b68"/><rect x="690" y="0" width="250" height="900" fill="#1b2142"/><ellipse cx="730" cy="330" rx="40" ry="120" fill="#c9a9a0" opacity="0.7"/><ellipse cx="440" cy="330" rx="300" ry="220" fill="#4a2b1f"/><ellipse cx="165" cy="470" rx="40" ry="80" fill="#e29a8a"/><ellipse cx="455" cy="520" rx="250" ry="312" fill="#eba595"/><ellipse cx="460" cy="380" rx="200" ry="110" fill="#f0b5a5" opacity="0.8"/><path d="M145 420 Q160 160 450 125 Q740 150 735 420 Q690 270 560 240 Q420 250 330 235 Q250 270 215 470 Q160 470 145 420 Z" fill="#4a2b1f"/><ellipse cx="320" cy="560" rx="60" ry="40" fill="#f5c0b5" opacity="0.6"/><ellipse cx="455" cy="520" rx="250" ry="312" fill="url(#g5)"/></g><g filter="url(#h5)" opacity="0.9"><ellipse cx="378" cy="424" rx="42" ry="16" fill="#3b2b26" opacity="0.8"/><ellipse cx="588" cy="424" rx="42" ry="16" fill="#3b2b26" opacity="0.8"/><ellipse cx="378" cy="379" rx="60" ry="9" fill="#3b2b26" opacity="0.55"/><ellipse cx="588" cy="379" rx="60" ry="9" fill="#3b2b26" opacity="0.55"/><ellipse cx="485.0" cy="564.5" rx="34" ry="16" fill="#c27565" opacity="0.45"/><ellipse cx="490" cy="655" rx="85" ry="26" fill="#c0606a" opacity="0.9"/><ellipse cx="490" cy="662" rx="66" ry="15" fill="#f6e6da"/></g></g></svg>
<span class="t" style="left:159.30px;top:606px;font-size:17px;line-height:22px;letter-spacing:0.486px;color:#2a62ff;-webkit-text-stroke:0.2px #2a62ff;">Timothy Hamelton</span>
<span class="t" style="left:159.30px;top:630px;font-size:16.5px;line-height:21px;letter-spacing:0.000px;color:#a9a9af;transform-origin:0 50%;transform:scaleX(0.9596);">SALES MANAGER</span>
<svg style="left:364px;top:607.20px" width="80" height="40" viewBox="0 0 1600 800"><path d="M303.5 306.9 L362.3 194.2 Q377.0 166.0 391.7 194.2 L450.5 306.9 L575.8 327.9 Q607.2 333.2 584.9 355.9 L495.9 446.6 L514.6 572.4 Q519.2 603.8 490.8 589.6 L377.0 533.0 L263.2 589.6 Q234.8 603.8 239.4 572.4 L258.1 446.6 L169.1 355.9 Q146.8 333.2 178.2 327.9 Z" fill="none" stroke="#9b9b9b" stroke-width="37" stroke-linejoin="round"/><path d="M1030 200 H1245 Q1355 200 1355 310 V430 Q1355 540 1245 540 H1075 Q1050 540 1030 558 Q990 598 962 584 Q938 570 946 522 Q920 490 920 430 V310 Q920 200 1030 200 Z" fill="none" stroke="#9b9b9b" stroke-width="37" stroke-linejoin="round"/><path d="M1038 330 H1236 M1038 408 H1158" stroke="#9b9b9b" stroke-width="34" stroke-linecap="round"/></svg>
<span class="t" style="left:479.80px;top:617px;font-size:14px;line-height:18px;letter-spacing:0.706px;color:#959aaa;">Wochenende</span>
<span class="t" style="left:617.98px;top:617px;font-size:14px;line-height:18px;letter-spacing:0.637px;color:#959aaa;">Remote Meeting</span>
<span class="t" style="left:767.36px;top:617px;font-size:14px;line-height:18px;letter-spacing:0.637px;color:#959aaa;">Remote Meeting</span>
<span class="t" style="left:939.34px;top:609px;font-size:14px;line-height:18px;letter-spacing:0.575px;color:#414d72;">HQ Office</span>
<span class="t" style="left:932.14px;top:630px;font-size:11.2px;line-height:14px;letter-spacing:0.666px;color:#5f7f83;">12 pm - 09 pm</span>
<span class="t" style="left:1088.72px;top:609px;font-size:14px;line-height:18px;letter-spacing:0.575px;color:#414d72;">HQ Office</span>
<span class="t" style="left:1081.52px;top:630px;font-size:11.2px;line-height:14px;letter-spacing:0.666px;color:#5f7f83;">12 pm - 09 pm</span>
<span class="t" style="left:1238.10px;top:609px;font-size:14px;line-height:18px;letter-spacing:0.575px;color:#414d72;">HQ Office</span>
<span class="t" style="left:1230.90px;top:630px;font-size:11.2px;line-height:14px;letter-spacing:0.666px;color:#5f7f83;">12 pm - 09 pm</span>
<span class="t" style="left:1376.08px;top:617px;font-size:14px;line-height:18px;letter-spacing:0.706px;color:#4a5578;">Wochenende</span>
<svg style="left:95px;top:680px" width="50" height="50" viewBox="0 0 900 900"><defs><clipPath id="c6"><circle cx="466" cy="450" r="341"/></clipPath><filter id="f6" x="-10%" y="-10%" width="120%" height="120%"><feGaussianBlur stdDeviation="18"/></filter><filter id="h6" x="-10%" y="-10%" width="120%" height="120%"><feGaussianBlur stdDeviation="12"/></filter><radialGradient id="g6" cx="50%" cy="42%" r="55%"><stop offset="0.45" stop-color="#5a2a10" stop-opacity="0"/><stop offset="1" stop-color="#5a2a10" stop-opacity="0.42"/></radialGradient></defs><g clip-path="url(#c6)"><g filter="url(#f6)"><rect x="0" y="0" width="900" height="900" fill="#a9ada6"/><ellipse cx="700" cy="330" rx="150" ry="200" fill="#9aa293" opacity="0.7"/><ellipse cx="230" cy="600" rx="120" ry="200" fill="#b5b3b0" opacity="0.7"/><ellipse cx="440" cy="320" rx="212" ry="205" fill="#17130f"/><ellipse cx="240" cy="480" rx="30" ry="60" fill="#7d4d32"/><ellipse cx="635" cy="480" rx="30" ry="60" fill="#7d4d32"/><rect x="290" y="690" width="320" height="260" fill="#8a5538"/><ellipse cx="445" cy="505" rx="188" ry="282" fill="#8f5b3d"/><ellipse cx="450" cy="400" rx="140" ry="90" fill="#9c6848" opacity="0.8"/><path d="M235 430 Q230 170 440 130 Q650 165 645 430 Q610 290 540 255 Q440 230 340 260 Q280 310 235 430 Z" fill="#17130f"/><ellipse cx="460" cy="650" rx="120" ry="95" fill="#2e1c14" opacity="0.55"/><ellipse cx="445" cy="505" rx="188" ry="282" fill="url(#g6)"/></g><g filter="url(#h6)" opacity="0.9"><ellipse cx="370" cy="428" rx="42" ry="16" fill="#20140f" opacity="0.8"/><ellipse cx="540" cy="428" rx="42" ry="16" fill="#20140f" opacity="0.8"/><ellipse cx="370" cy="383" rx="60" ry="9" fill="#20140f" opacity="0.55"/><ellipse cx="540" cy="383" rx="60" ry="9" fill="#20140f" opacity="0.55"/><ellipse cx="457.0" cy="545.0" rx="34" ry="16" fill="#5e3522" opacity="0.45"/><ellipse cx="462" cy="612" rx="56" ry="20" fill="#b56c74" opacity="0.9"/></g></g></svg>
<span class="t" style="left:159.30px;top:685px;font-size:17px;line-height:22px;letter-spacing:0.407px;color:#2a62ff;-webkit-text-stroke:0.2px #2a62ff;">Oliver Horsford</span>
<span class="t" style="left:159.30px;top:708px;font-size:16.5px;line-height:21px;letter-spacing:0.103px;color:#a9a9af;">CMO</span>
<svg style="left:364px;top:685.44px" width="80" height="40" viewBox="0 0 1600 800"><path d="M303.5 306.9 L362.3 194.2 Q377.0 166.0 391.7 194.2 L450.5 306.9 L575.8 327.9 Q607.2 333.2 584.9 355.9 L495.9 446.6 L514.6 572.4 Q519.2 603.8 490.8 589.6 L377.0 533.0 L263.2 589.6 Q234.8 603.8 239.4 572.4 L258.1 446.6 L169.1 355.9 Q146.8 333.2 178.2 327.9 Z" fill="none" stroke="#9b9b9b" stroke-width="37" stroke-linejoin="round"/><path d="M1030 200 H1245 Q1355 200 1355 310 V430 Q1355 540 1245 540 H1075 Q1050 540 1030 558 Q990 598 962 584 Q938 570 946 522 Q920 490 920 430 V310 Q920 200 1030 200 Z" fill="none" stroke="#9b9b9b" stroke-width="37" stroke-linejoin="round"/><path d="M1038 330 H1236 M1038 408 H1158" stroke="#9b9b9b" stroke-width="34" stroke-linecap="round"/></svg>
<span class="t" style="left:479.80px;top:696px;font-size:14px;line-height:18px;letter-spacing:0.706px;color:#959aaa;">Wochenende</span>
<span class="t" style="left:617.98px;top:696px;font-size:14px;line-height:18px;letter-spacing:0.637px;color:#959aaa;">Remote Meeting</span>
<span class="t" style="left:775.06px;top:687px;font-size:14px;line-height:18px;letter-spacing:0.661px;color:#959aaa;">German office</span>
<span class="t" style="left:782.76px;top:708px;font-size:11.2px;line-height:14px;letter-spacing:0.666px;color:#a9bdb6;">12 pm - 09 pm</span>
<span class="t" style="left:924.44px;top:687px;font-size:14px;line-height:18px;letter-spacing:0.661px;color:#414d72;">German office</span>
<span class="t" style="left:932.14px;top:708px;font-size:11.2px;line-height:14px;letter-spacing:0.666px;color:#5f7f83;">12 pm - 09 pm</span>
<span class="t" style="left:1092.17px;top:696px;font-size:14px;line-height:18px;letter-spacing:0.779px;color:#414d72;">Vacation</span>
<span class="t" style="left:1223.20px;top:687px;font-size:14px;line-height:18px;letter-spacing:0.661px;color:#414d72;">German office</span>
<span class="t" style="left:1230.90px;top:708px;font-size:11.2px;line-height:14px;letter-spacing:0.666px;color:#5f7f83;">12 pm - 09 pm</span>
<span class="t" style="left:1376.08px;top:696px;font-size:14px;line-height:18px;letter-spacing:0.706px;color:#4a5578;">Wochenende</span>
<svg style="left:95px;top:758px" width="50" height="50" viewBox="0 0 900 900"><defs><clipPath id="c7"><circle cx="466" cy="450" r="341"/></clipPath><filter id="f7" x="-10%" y="-10%" width="120%" height="120%"><feGaussianBlur stdDeviation="18"/></filter><filter id="h7" x="-10%" y="-10%" width="120%" height="120%"><feGaussianBlur stdDeviation="12"/></filter><radialGradient id="g7" cx="50%" cy="42%" r="55%"><stop offset="0.45" stop-color="#5a2a10" stop-opacity="0"/><stop offset="1" stop-color="#5a2a10" stop-opacity="0.42"/></radialGradient></defs><g clip-path="url(#c7)"><g filter="url(#f7)"><rect x="0" y="0" width="900" height="900" fill="#d3d3d3"/><ellipse cx="485" cy="320" rx="262" ry="215" fill="#2e211b"/><ellipse cx="232" cy="470" rx="32" ry="75" fill="#c9937b"/><ellipse cx="735" cy="470" rx="32" ry="75" fill="#c9937b"/><rect x="300" y="690" width="380" height="250" fill="#c9957c"/><path d="M230 720 L330 680 L360 800 L250 820 Z" fill="#3a2a2e"/><ellipse cx="482" cy="505" rx="222" ry="292" fill="#d6a48d"/><ellipse cx="485" cy="370" rx="180" ry="110" fill="#ddb09a" opacity="0.8"/><path d="M228 420 Q225 160 480 115 Q745 150 742 420 Q705 260 640 215 Q480 195 330 215 Q265 280 228 420 Z" fill="#2e211b"/><ellipse cx="490" cy="700" rx="150" ry="85" fill="#6a4938" opacity="0.45"/><ellipse cx="490" cy="632" rx="105" ry="18" fill="#5a3c2e" opacity="0.6"/><ellipse cx="482" cy="505" rx="222" ry="292" fill="url(#g7)"/></g><g filter="url(#h7)" opacity="0.9"><ellipse cx="368" cy="430" rx="42" ry="16" fill="#3b2b26" opacity="0.8"/><ellipse cx="590" cy="430" rx="42" ry="16" fill="#3b2b26" opacity="0.8"/><ellipse cx="368" cy="385" rx="60" ry="9" fill="#3b2b26" opacity="0.55"/><ellipse cx="590" cy="385" rx="60" ry="9" fill="#3b2b26" opacity="0.55"/><ellipse cx="481.0" cy="571.0" rx="34" ry="16" fill="#a86f50" opacity="0.45"/><ellipse cx="490" cy="662" rx="78" ry="22" fill="#cc7482" opacity="0.9"/></g></g></svg>
<span class="t" style="left:159.30px;top:763px;font-size:17px;line-height:22px;letter-spacing:0.061px;color:#2a62ff;-webkit-text-stroke:0.2px #2a62ff;">Paulo Iskander</span>
<span class="t" style="left:159.30px;top:786px;font-size:16.5px;line-height:21px;letter-spacing:0.158px;color:#a9a9af;">COO</span>
<svg style="left:364px;top:763.68px" width="80" height="40" viewBox="0 0 1600 800"><path d="M303.5 306.9 L362.3 194.2 Q377.0 166.0 391.7 194.2 L450.5 306.9 L575.8 327.9 Q607.2 333.2 584.9 355.9 L495.9 446.6 L514.6 572.4 Q519.2 603.8 490.8 589.6 L377.0 533.0 L263.2 589.6 Q234.8 603.8 239.4 572.4 L258.1 446.6 L169.1 355.9 Q146.8 333.2 178.2 327.9 Z" fill="none" stroke="#9b9b9b" stroke-width="37" stroke-linejoin="round"/><path d="M1030 200 H1245 Q1355 200 1355 310 V430 Q1355 540 1245 540 H1075 Q1050 540 1030 558 Q990 598 962 584 Q938 570 946 522 Q920 490 920 430 V310 Q920 200 1030 200 Z" fill="none" stroke="#9b9b9b" stroke-width="37" stroke-linejoin="round"/><path d="M1038 330 H1236 M1038 408 H1158" stroke="#9b9b9b" stroke-width="34" stroke-linecap="round"/></svg>
<span class="t" style="left:479.80px;top:774px;font-size:14px;line-height:18px;letter-spacing:0.706px;color:#959aaa;">Wochenende</span>
<span class="t" style="left:649.13px;top:774px;font-size:14px;line-height:18px;letter-spacing:0.250px;color:#959aaa;">Day Off</span>
<span class="t" style="left:775.06px;top:766px;font-size:14px;line-height:18px;letter-spacing:0.661px;color:#959aaa;">German office</span>
<span class="t" style="left:782.76px;top:786px;font-size:11.2px;line-height:14px;letter-spacing:0.666px;color:#a9bdb6;">12 pm - 09 pm</span>
<span class="t" style="left:924.44px;top:766px;font-size:14px;line-height:18px;letter-spacing:0.661px;color:#414d72;">German office</span>
<span class="t" style="left:932.14px;top:786px;font-size:11.2px;line-height:14px;letter-spacing:0.666px;color:#5f7f83;">12 pm - 09 pm</span>
<span class="t" style="left:1073.82px;top:783px;font-size:14px;line-height:18px;letter-spacing:0.661px;color:#414d72;">German office</span>
<span class="t" style="left:1223.20px;top:766px;font-size:14px;line-height:18px;letter-spacing:0.661px;color:#414d72;">German office</span>
<span class="t" style="left:1230.90px;top:786px;font-size:11.2px;line-height:14px;letter-spacing:0.666px;color:#5f7f83;">12 pm - 09 pm</span>
<span class="t" style="left:1376.08px;top:774px;font-size:14px;line-height:18px;letter-spacing:0.706px;color:#4a5578;">Wochenende</span>
<svg style="left:95px;top:836px" width="50" height="50" viewBox="0 0 900 900"><defs><clipPath id="c8"><circle cx="466" cy="460" r="341"/></clipPath><filter id="f8" x="-10%" y="-10%" width="120%" height="120%"><feGaussianBlur stdDeviation="18"/></filter><filter id="h8" x="-10%" y="-10%" width="120%" height="120%"><feGaussianBlur stdDeviation="12"/></filter><radialGradient id="g8" cx="50%" cy="42%" r="55%"><stop offset="0.45" stop-color="#5a2a10" stop-opacity="0"/><stop offset="1" stop-color="#5a2a10" stop-opacity="0.42"/></radialGradient></defs><g clip-path="url(#c8)"><g filter="url(#f8)"><rect x="0" y="0" width="900" height="900" fill="#d9d9d7"/><ellipse cx="440" cy="320" rx="195" ry="205" fill="#1a1512"/><ellipse cx="250" cy="470" rx="28" ry="62" fill="#8a5a40"/><ellipse cx="630" cy="470" rx="28" ry="62" fill="#8a5a40"/><rect x="280" y="700" width="330" height="250" fill="#92603f"/><path d="M250 720 L360 700 L350 800 L260 790 Z M640 740 L560 700 L560 790 Z" fill="#2a2426"/><ellipse cx="442" cy="500" rx="190" ry="285" fill="#9c6b4d"/><ellipse cx="445" cy="390" rx="145" ry="90" fill="#a87759" opacity="0.8"/><path d="M250 420 Q248 170 440 125 Q632 165 630 420 Q600 290 540 255 Q440 232 345 258 Q285 310 250 420 Z" fill="#1a1512"/><path d="M300 560 Q300 760 450 770 Q600 760 595 560 Q560 690 450 690 Q340 690 300 560 Z" fill="#241711" opacity="0.85"/><ellipse cx="450" cy="598" rx="95" ry="20" fill="#241711" opacity="0.8"/><ellipse cx="452" cy="690" rx="40" ry="25" fill="#241711" opacity="0.8"/><ellipse cx="442" cy="500" rx="190" ry="285" fill="url(#g8)"/></g><g filter="url(#h8)" opacity="0.9"><ellipse cx="358" cy="428" rx="42" ry="16" fill="#2a1a14" opacity="0.8"/><ellipse cx="540" cy="428" rx="42" ry="16" fill="#2a1a14" opacity="0.8"/><ellipse cx="358" cy="383" rx="60" ry="9" fill="#2a1a14" opacity="0.55"/><ellipse cx="540" cy="383" rx="60" ry="9" fill="#2a1a14" opacity="0.55"/><ellipse cx="451.0" cy="559.0" rx="34" ry="16" fill="#6a4128" opacity="0.45"/><ellipse cx="452" cy="640" rx="52" ry="18" fill="#c4838c" opacity="0.9"/></g></g></svg>
<span class="t" style="left:159.30px;top:841px;font-size:17px;line-height:22px;letter-spacing:0.079px;color:#2a62ff;-webkit-text-stroke:0.2px #2a62ff;">Halid Jamal</span>
<span class="t" style="left:159.30px;top:865px;font-size:16.5px;line-height:21px;letter-spacing:0.000px;color:#a9a9af;transform-origin:0 50%;transform:scaleX(0.9690);">IT MANAGER</span>
<svg style="left:364px;top:841.92px" width="80" height="40" viewBox="0 0 1600 800"><path d="M303.5 306.9 L362.3 194.2 Q377.0 166.0 391.7 194.2 L450.5 306.9 L575.8 327.9 Q607.2 333.2 584.9 355.9 L495.9 446.6 L514.6 572.4 Q519.2 603.8 490.8 589.6 L377.0 533.0 L263.2 589.6 Q234.8 603.8 239.4 572.4 L258.1 446.6 L169.1 355.9 Q146.8 333.2 178.2 327.9 Z" fill="none" stroke="#9b9b9b" stroke-width="37" stroke-linejoin="round"/><path d="M1030 200 H1245 Q1355 200 1355 310 V430 Q1355 540 1245 540 H1075 Q1050 540 1030 558 Q990 598 962 584 Q938 570 946 522 Q920 490 920 430 V310 Q920 200 1030 200 Z" fill="none" stroke="#9b9b9b" stroke-width="37" stroke-linejoin="round"/><path d="M1038 330 H1236 M1038 408 H1158" stroke="#9b9b9b" stroke-width="34" stroke-linecap="round"/></svg>
<span class="t" style="left:479.80px;top:852px;font-size:14px;line-height:18px;letter-spacing:0.706px;color:#959aaa;">Wochenende</span>
<span class="t" style="left:625.68px;top:844px;font-size:14px;line-height:18px;letter-spacing:0.661px;color:#959aaa;">German office</span>
<span class="t" style="left:633.38px;top:865px;font-size:11.2px;line-height:14px;letter-spacing:0.666px;color:#a9bdb6;">12 pm - 09 pm</span>
<span class="t" style="left:775.06px;top:862px;font-size:14px;line-height:18px;letter-spacing:0.661px;color:#959aaa;">German office</span>
<span class="t" style="left:924.44px;top:844px;font-size:14px;line-height:18px;letter-spacing:0.661px;color:#414d72;">German office</span>
<span class="t" style="left:932.14px;top:865px;font-size:11.2px;line-height:14px;letter-spacing:0.666px;color:#5f7f83;">12 pm - 09 pm</span>
<span class="t" style="left:1086.02px;top:852px;font-size:14px;line-height:18px;letter-spacing:0.302px;color:#414d72;">Sick Leave</span>
<span class="t" style="left:1223.20px;top:862px;font-size:14px;line-height:18px;letter-spacing:0.661px;color:#414d72;">German office</span>
<span class="t" style="left:1376.08px;top:852px;font-size:14px;line-height:18px;letter-spacing:0.706px;color:#4a5578;">Wochenende</span>
<svg style="left:1406px;top:18px" width="60" height="60" viewBox="0 0 900 900"><defs><clipPath id="c9"><circle cx="463" cy="452" r="359"/></clipPath><filter id="f9" x="-10%" y="-10%" width="120%" height="120%"><feGaussianBlur stdDeviation="13"/></filter><filter id="h9" x="-10%" y="-10%" width="120%" height="120%"><feGaussianBlur stdDeviation="12"/></filter></defs><g clip-path="url(#c9)"><g filter="url(#f9)"><rect x="0" y="0" width="900" height="900" fill="#ead7bf"/><rect x="150" y="0" width="32" height="900" fill="#c29c76" opacity="0.9"/><rect x="215" y="0" width="45" height="900" fill="#f5e9d8" opacity="0.95"/><rect x="290" y="0" width="38" height="900" fill="#bb956e" opacity="0.9"/><rect x="360" y="0" width="45" height="900" fill="#d0ab85" opacity="0.9"/><rect x="95" y="0" width="30" height="900" fill="#cfae8c" opacity="0.75"/><rect x="700" y="0" width="250" height="900" fill="#e9e1db"/><path d="M400 190 Q500 80 650 150 Q750 260 725 480 Q730 620 775 700 L170 700 Q270 570 320 400 Q350 250 400 190 Z" fill="#2a1a17"/><rect x="400" y="560" width="170" height="200" fill="#c58d74"/><ellipse cx="540" cy="420" rx="142" ry="215" fill="#d3a089" transform="rotate(-13 540 420)"/><ellipse cx="570" cy="300" rx="100" ry="70" fill="#e0b39d" opacity="0.8" transform="rotate(-13 570 300)"/><ellipse cx="470" cy="480" rx="50" ry="120" fill="#b98167" opacity="0.45" transform="rotate(-13 470 480)"/><path d="M385 350 Q420 200 580 165 Q500 250 465 340 Q430 430 395 500 Z" fill="#2a1a17"/><path d="M700 300 Q730 450 700 560 Q680 640 735 700 L640 700 Q650 560 668 470 Q690 380 680 300 Z" fill="#2a1a17"/><path d="M170 690 Q300 640 420 700 L470 900 L0 900 Z" fill="#1e1b20"/><path d="M480 690 Q620 640 760 690 L900 900 L440 900 Z" fill="#1e1b20"/><path d="M325 715 L445 715 L455 805 L315 795 Z" fill="#e9edf3" opacity="0.95"/><path d="M360 748 L420 748 L415 792 L365 792 Z" fill="#23263a" opacity="0.9"/></g><g filter="url(#h9)" opacity="0.9"><ellipse cx="480" cy="380" rx="38" ry="14" fill="#2e2026" opacity="0.9" transform="rotate(12 480 380)"/><ellipse cx="640" cy="412" rx="33" ry="13" fill="#2e2026" opacity="0.9" transform="rotate(12 640 412)"/><ellipse cx="478" cy="342" rx="48" ry="9" fill="#2e2026" opacity="0.65" transform="rotate(14 478 342)"/><ellipse cx="642" cy="376" rx="42" ry="9" fill="#2e2026" opacity="0.65" transform="rotate(14 642 376)"/><ellipse cx="565" cy="470" rx="26" ry="40" fill="#b97d6a" opacity="0.55"/><ellipse cx="532" cy="552" rx="56" ry="23" fill="#b04e46" opacity="0.9" transform="rotate(8 532 552)"/></g></g></svg>
</div></body></html>
